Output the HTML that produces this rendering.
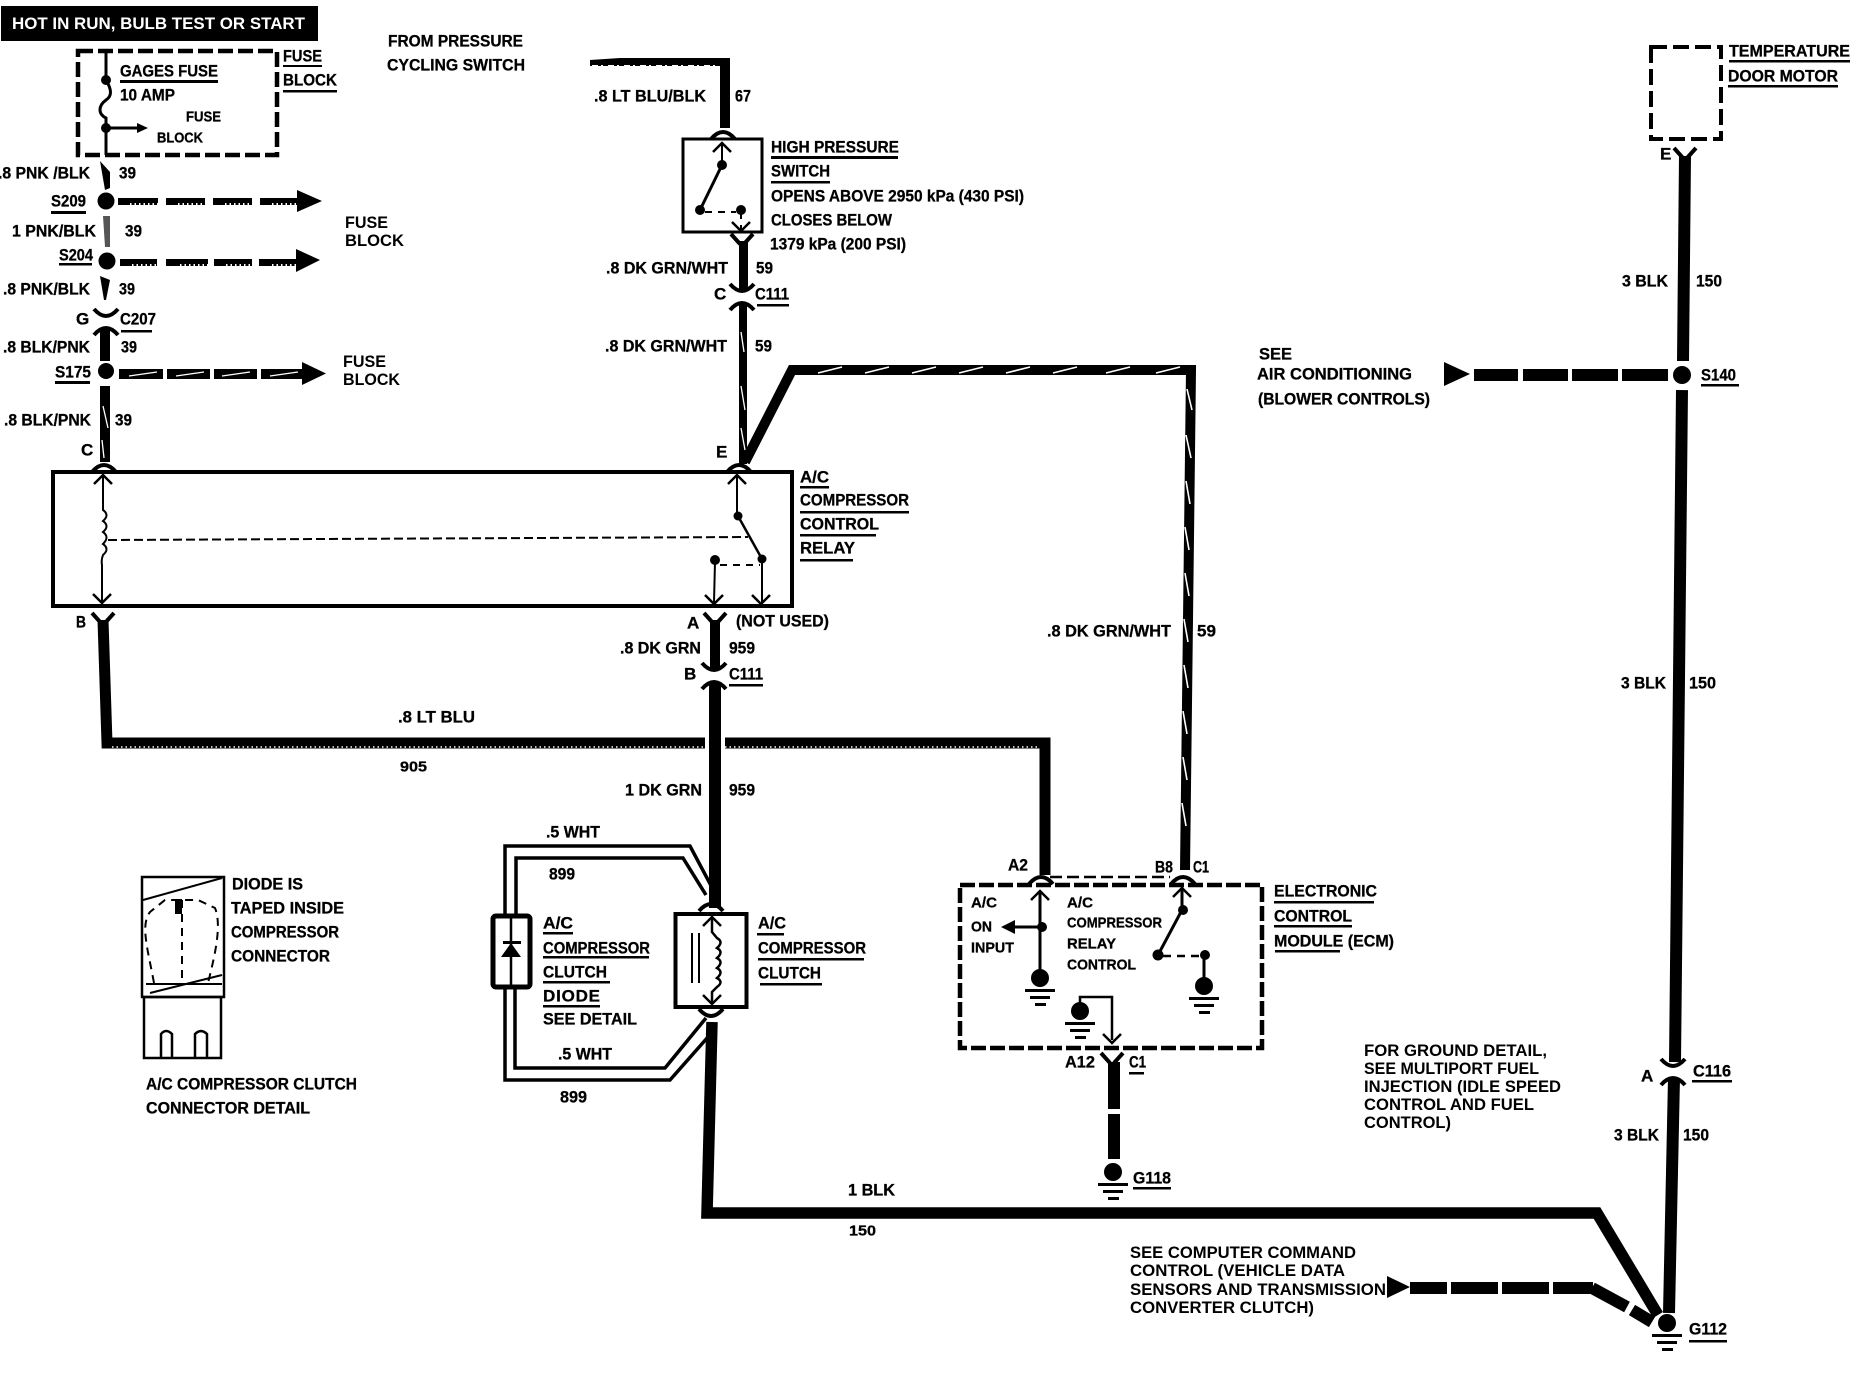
<!DOCTYPE html>
<html><head><meta charset="utf-8"><title>A/C compressor wiring</title>
<style>
html,body{margin:0;padding:0;background:#fff}
svg{display:block}
text{font-family:"Liberation Sans",sans-serif;font-weight:bold;fill:#000}
.c{font-size:17px;stroke:#000;stroke-width:.3px;transform:translateY(-.7px)}.s{font-size:15px;stroke:#000;stroke-width:.3px;transform:translateY(-.7px)}.a{font-size:17px}.h{font-size:17px;fill:#fff}
.l{fill:none;stroke:#000;stroke-linejoin:miter}
.w{fill:none;stroke:#fff}
</style></head><body>
<svg xmlns="http://www.w3.org/2000/svg" width="1858" height="1376" viewBox="0 0 1858 1376">
<defs>
<path id="cap" class="l" stroke-width="4" d="M-12,7 Q0,-7 12,7"/>
<path id="cup" class="l" stroke-width="4" d="M-12,-7 Q0,7 12,-7"/>
<path id="yc" class="l" stroke-width="4" d="M-11,-7 L-2,3 M11,-7 L2,3"/>
<path id="au" class="l" stroke-width="2.5" d="M-9,9 L0,0 L9,9"/>
<path id="ad" class="l" stroke-width="2.5" d="M-9,-9 L0,0 L9,-9"/>
<g id="gnd"><circle r="9"/><rect x="-15" y="11" width="30" height="3"/><rect x="-10" y="18" width="20" height="3"/><rect x="-5" y="25" width="11" height="3"/></g>
</defs>
<rect width="1858" height="1376" fill="#fff"/>

<!-- header -->
<rect x="1" y="6" width="317" height="35"/>
<text class="h" x="12" y="29" textLength="293" lengthAdjust="spacingAndGlyphs">HOT IN RUN,  BULB TEST OR START</text>

<!-- fuse box -->
<rect class="l" x="78" y="51" width="199" height="104" stroke-width="4.5" stroke-dasharray="15 5"/>
<path class="l" stroke-width="3" d="M106,50 V80 C112,90 112,96 106,100 C98,106 98,114 106,118 V155 M106,128 H140"/>
<circle cx="106" cy="80" r="5"/><circle cx="106" cy="128" r="5"/>
<path d="M137,123 L148,128 L137,133Z"/>
<text class="c" x="120" y="77" textLength="98" lengthAdjust="spacingAndGlyphs">GAGES FUSE</text>
<rect x="120" y="80" width="98" height="3"/>
<text class="c" x="120" y="101" textLength="55" lengthAdjust="spacingAndGlyphs">10 AMP</text>
<text class="s" x="186" y="122" textLength="35" lengthAdjust="spacingAndGlyphs">FUSE</text>
<text class="s" x="157" y="143" textLength="46" lengthAdjust="spacingAndGlyphs">BLOCK</text>
<text class="c" x="283" y="62" textLength="39" lengthAdjust="spacingAndGlyphs">FUSE</text><rect x="283" y="65" width="39" height="2"/>
<text class="c" x="283" y="86" textLength="54" lengthAdjust="spacingAndGlyphs">BLOCK</text><rect x="283" y="90" width="54" height="2.5"/>

<text class="c" x="388" y="47" textLength="135" lengthAdjust="spacingAndGlyphs">FROM PRESSURE</text>
<text class="c" x="387" y="71" textLength="138" lengthAdjust="spacingAndGlyphs">CYCLING SWITCH</text>

<!-- left vertical chain -->
<text class="c" x="-2" y="179" textLength="92" lengthAdjust="spacingAndGlyphs">.8 PNK /BLK</text>
<text class="c" x="119" y="179" textLength="17" lengthAdjust="spacingAndGlyphs">39</text>
<path d="M100,161 L110,172 L110,188 L105,190Z"/>
<circle cx="106" cy="201" r="8.5"/>
<text class="c" x="51" y="207" textLength="35" lengthAdjust="spacingAndGlyphs">S209</text><rect x="51" y="211" width="35" height="3"/>
<g><rect x="118" y="198" width="40" height="7"/><rect x="166" y="198" width="39" height="7"/><rect x="213" y="198" width="39" height="7"/><rect x="260" y="198" width="40" height="7"/><path d="M297,190 L322,201 L297,212Z"/></g>
<path class="w" stroke-width="2" stroke-dasharray="1.500 3" d="M130,204 H158 M178,204 H205 M225,204 H252 M272,204 H298"/>
<text class="c" x="12" y="237" textLength="84" lengthAdjust="spacingAndGlyphs">1 PNK/BLK</text>
<text class="c" x="125" y="237" textLength="17" lengthAdjust="spacingAndGlyphs">39</text>
<path d="M103,216 H110 V247 H105Z" fill="#555"/>
<text class="c" x="59" y="261" textLength="34" lengthAdjust="spacingAndGlyphs">S204</text><rect x="59" y="263" width="33" height="2.5"/>
<circle cx="107" cy="261" r="8.5"/>
<g><rect x="120" y="259" width="37" height="7"/><rect x="166" y="259" width="42" height="7"/><rect x="214" y="259" width="38" height="7"/><rect x="259" y="259" width="38" height="7"/><path d="M296,249 L320,260 L296,272Z"/></g>
<path class="w" stroke-width="2" stroke-dasharray="1.500 3" d="M132,265 H157 M180,265 H208 M226,265 H252 M272,265 H297"/>
<text class="c" x="3" y="295" textLength="87" lengthAdjust="spacingAndGlyphs">.8 PNK/BLK</text>
<text class="c" x="119" y="295" textLength="16" lengthAdjust="spacingAndGlyphs">39</text>
<path d="M100,276 L110,280 L106,300 L104,300Z"/>
<text class="c" x="76" y="325">G</text>
<use href="#cup" x="106" y="316"/><use href="#cap" x="106" y="328"/>
<text class="c" x="120" y="325" textLength="36" lengthAdjust="spacingAndGlyphs">C207</text><rect x="121" y="330" width="31" height="2.5"/>
<rect x="100" y="328" width="10" height="33"/>
<text class="c" x="3" y="353" textLength="87" lengthAdjust="spacingAndGlyphs">.8 BLK/PNK</text>
<text class="c" x="121" y="353" textLength="16" lengthAdjust="spacingAndGlyphs">39</text>
<circle cx="106" cy="371" r="8"/>
<text class="c" x="55" y="378" textLength="36" lengthAdjust="spacingAndGlyphs">S175</text><rect x="55" y="381" width="35" height="3"/>
<g><rect x="119" y="369" width="44" height="10"/><rect x="167" y="369" width="43" height="10"/><rect x="214" y="369" width="43" height="10"/><rect x="261" y="369" width="43" height="10"/><path d="M302,362 L326,373.500 L302,385Z"/></g>
<path class="w" stroke-width="1.300" d="M129,376 L157,372 M176,376 L204,372 M222,376 L250,372 M270,376 L298,372"/>
<text class="a" x="345" y="228" textLength="43" lengthAdjust="spacingAndGlyphs">FUSE</text>
<text class="a" x="345" y="246" textLength="59" lengthAdjust="spacingAndGlyphs">BLOCK</text>
<text class="a" x="343" y="367" textLength="43" lengthAdjust="spacingAndGlyphs">FUSE</text>
<text class="a" x="343" y="385" textLength="57" lengthAdjust="spacingAndGlyphs">BLOCK</text>
<rect x="100" y="386" width="10" height="76"/>
<path class="w" stroke-width="1.300" d="M103,406 L108,428 M102,440 L104,458"/>
<text class="c" x="4" y="426" textLength="87" lengthAdjust="spacingAndGlyphs">.8 BLK/PNK</text>
<text class="c" x="115" y="426" textLength="17" lengthAdjust="spacingAndGlyphs">39</text>
<text class="c" x="81" y="456">C</text>
<use href="#cap" x="104" y="465"/>

<!-- relay -->
<rect class="l" x="53" y="472" width="739" height="134" stroke-width="4"/>
<use href="#au" x="103" y="475"/>
<path class="l" stroke-width="2" d="M103,476 V510 q7,5 0,11 q7,5 0,11 q7,5 0,12 q7,5 0,11 q-2,5 -1,10 V602"/>
<use href="#ad" x="102" y="603"/>
<path class="l" stroke-width="2" stroke-dasharray="9 4" d="M108,540 L748,537"/>
<use href="#au" x="737" y="475"/>
<path class="l" stroke-width="2" d="M737,476 V516"/>
<circle cx="738" cy="516" r="4.500"/>
<path class="l" stroke-width="2.500" d="M738,516 L762,559"/>
<circle cx="762" cy="559" r="4.500"/><circle cx="715" cy="560" r="5"/>
<path class="l" stroke-width="2" stroke-dasharray="7 6" d="M720,565 H760"/>
<path class="l" stroke-width="2" d="M715,562 L714,602 M762,560 V602"/>
<use href="#ad" x="714" y="604"/><use href="#ad" x="761" y="604"/>
<text class="c" x="800" y="483" textLength="29" lengthAdjust="spacingAndGlyphs">A/C</text><rect x="800" y="486" width="29" height="2.5"/>
<text class="c" x="800" y="506" textLength="109" lengthAdjust="spacingAndGlyphs">COMPRESSOR</text><rect x="800" y="511" width="109" height="2.5"/>
<text class="c" x="800" y="530" textLength="79" lengthAdjust="spacingAndGlyphs">CONTROL</text><rect x="800" y="534" width="76" height="2.5"/>
<text class="c" x="800" y="554" textLength="55" lengthAdjust="spacingAndGlyphs">RELAY</text><rect x="800" y="559" width="53" height="2.5"/>

<text class="c" x="76" y="628" textLength="10" lengthAdjust="spacingAndGlyphs">B</text>
<use href="#yc" x="103" y="620"/>
<path class="l" stroke-width="11" d="M103,620 L107,743 H705 M725,743 H1045 V875"/>
<path class="w" stroke-width="1.500" stroke-dasharray="1.500 3" d="M112,747 H705 M725,747 H1040"/>
<use href="#yc" x="715" y="620"/>
<text class="c" x="687" y="629">A</text>
<text class="c" x="736" y="627" textLength="93" lengthAdjust="spacingAndGlyphs">(NOT USED)</text>
<rect x="710" y="620" width="10" height="48"/>
<text class="c" x="620" y="654" textLength="81" lengthAdjust="spacingAndGlyphs">.8 DK GRN</text>
<text class="c" x="729" y="654" textLength="26" lengthAdjust="spacingAndGlyphs">959</text>
<use href="#cup" x="714" y="670"/><use href="#cap" x="714" y="682"/>
<text class="c" x="684" y="680">B</text>
<text class="c" x="729" y="680" textLength="34" lengthAdjust="spacingAndGlyphs">C111</text><rect x="729" y="684" width="34" height="2.5"/>
<rect x="709" y="683" width="12" height="225"/>
<text class="c" x="398" y="723" textLength="77" lengthAdjust="spacingAndGlyphs">.8 LT BLU</text>
<text class="s" x="400" y="772" textLength="27" lengthAdjust="spacingAndGlyphs">905</text>
<text class="c" x="625" y="796" textLength="77" lengthAdjust="spacingAndGlyphs">1 DK GRN</text>
<text class="c" x="729" y="796" textLength="26" lengthAdjust="spacingAndGlyphs">959</text>

<!-- high pressure switch -->
<path d="M590,60 L620,58 H728 V66 H590Z"/>
<path class="w" stroke-width="2" stroke-dasharray="6 3 2 5" d="M592,66 H716"/>
<path class="l" stroke-width="10" d="M725,58 V128"/>
<use href="#cap" x="723" y="132"/>
<text class="c" x="594" y="102" textLength="112" lengthAdjust="spacingAndGlyphs">.8 LT BLU/BLK</text>
<text class="c" x="735" y="102" textLength="16" lengthAdjust="spacingAndGlyphs">67</text>
<rect class="l" x="683" y="139" width="79" height="93" stroke-width="3"/>
<use href="#au" x="722" y="143"/>
<path class="l" stroke-width="2" d="M722,144 V165"/>
<circle cx="722" cy="165" r="5"/>
<path class="l" stroke-width="3" d="M722,165 L700,210"/>
<circle cx="700" cy="210" r="5"/><circle cx="741" cy="210" r="5"/>
<path class="l" stroke-width="2" stroke-dasharray="7 6" d="M705,212 H736 M741,212 V230"/>
<use href="#ad" x="741" y="231"/>
<use href="#yc" x="742" y="241"/>
<text class="c" x="771" y="153" textLength="128" lengthAdjust="spacingAndGlyphs">HIGH PRESSURE</text><rect x="771" y="156" width="127" height="3"/>
<text class="c" x="771" y="177" textLength="59" lengthAdjust="spacingAndGlyphs">SWITCH</text><rect x="771" y="181" width="59" height="2.5"/>
<text class="c" x="771" y="202" textLength="253" lengthAdjust="spacingAndGlyphs">OPENS ABOVE 2950 kPa (430 PSI)</text>
<text class="c" x="771" y="226" textLength="121" lengthAdjust="spacingAndGlyphs">CLOSES BELOW</text>
<text class="c" x="770" y="250" textLength="136" lengthAdjust="spacingAndGlyphs">1379 kPa (200 PSI)</text>
<rect x="739" y="241" width="9" height="48"/>
<text class="c" x="606" y="274" textLength="122" lengthAdjust="spacingAndGlyphs">.8 DK GRN/WHT</text>
<text class="c" x="756" y="274" textLength="17" lengthAdjust="spacingAndGlyphs">59</text>
<use href="#cup" x="742" y="291"/><use href="#cap" x="742" y="303"/>
<text class="c" x="714" y="300">C</text>
<text class="c" x="755" y="300" textLength="34" lengthAdjust="spacingAndGlyphs">C111</text><rect x="757" y="304" width="32" height="2.500"/>
<rect x="739" y="304" width="8" height="160"/>
<path class="w" stroke-width="1.300" d="M741,332 L744,352 M741,386 L745,410 M741,428 L745,450"/>
<text class="c" x="605" y="352" textLength="122" lengthAdjust="spacingAndGlyphs">.8 DK GRN/WHT</text>
<text class="c" x="755" y="352" textLength="17" lengthAdjust="spacingAndGlyphs">59</text>
<path class="l" stroke-width="10" d="M745,462 L792,370 H1191 L1185,870"/>
<path class="w" stroke-width="1.600" d="M818,373 l24,-6 M865,373 l24,-6 M912,373 l24,-6 M959,373 l24,-6 M1006,373 l24,-6 M1053,373 l24,-6 M1106,373 l24,-6 M1156,373 l24,-6"/>
<path class="w" stroke-width="1.600" d="M1187,389 l5,21 M1186,435 l5,23 M1186,481 l4,23 M1185,527 l4,23 M1185,573 l4,23 M1184,619 l4,23 M1184,665 l4,23 M1183,711 l4,23 M1183,757 l4,23 M1182,803 l4,23"/>
<text class="c" x="716" y="458">E</text>
<use href="#cap" x="739" y="465"/>
<text class="c" x="1047" y="637" textLength="124" lengthAdjust="spacingAndGlyphs">.8 DK GRN/WHT</text>
<text class="c" x="1197" y="637" textLength="19" lengthAdjust="spacingAndGlyphs">59</text>

<!-- clutch -->
<text class="c" x="546" y="838" textLength="54" lengthAdjust="spacingAndGlyphs">.5 WHT</text>
<text class="c" x="549" y="880" textLength="26" lengthAdjust="spacingAndGlyphs">899</text>
<path class="l" stroke-width="3.500" d="M505,915 V846 H690 L716,895 M516,915 V858 H683 L706,895"/>
<rect class="l" x="493" y="916" width="37" height="71" rx="3" stroke-width="5"/>
<path class="l" stroke-width="2.500" d="M511,916 V987"/>
<rect x="503" y="941" width="18" height="3"/><path d="M511,943 L521,957 H501Z"/>
<text class="c" x="543" y="929" textLength="30" lengthAdjust="spacingAndGlyphs">A/C</text><rect x="543" y="932" width="30" height="2.500"/>
<text class="c" x="543" y="954" textLength="107" lengthAdjust="spacingAndGlyphs">COMPRESSOR</text><rect x="543" y="956" width="106" height="2.500"/>
<text class="c" x="543" y="978" textLength="64" lengthAdjust="spacingAndGlyphs">CLUTCH</text><rect x="543" y="981" width="67" height="2.500"/>
<text class="c" x="543" y="1002" textLength="57" lengthAdjust="spacing">DIODE</text><rect x="543" y="1005" width="57" height="2.500"/>
<text class="c" x="543" y="1025" textLength="94" lengthAdjust="spacingAndGlyphs">SEE DETAIL</text>
<text class="c" x="558" y="1060" textLength="54" lengthAdjust="spacingAndGlyphs">.5 WHT</text>
<path class="l" stroke-width="3.500" d="M505,987 V1080 H670 L708,1037 M515,987 V1068 H665 L706,1018"/>
<text class="c" x="560" y="1103" textLength="27" lengthAdjust="spacingAndGlyphs">899</text>
<use href="#cap" x="711" y="904"/>
<rect class="l" x="675.500" y="914" width="71" height="93" stroke-width="4"/>
<use href="#au" x="712" y="917"/>
<path class="l" stroke-width="2.500" d="M712,918 V932 L717,938 q7,4 0,10 q7,4 0,10 q7,4 0,10 q7,4 0,10 q7,4 0,9 L712,992 V1002"/>
<use href="#ad" x="712" y="1004"/>
<path class="l" stroke-width="2" d="M692,933 V983 M699,933 V983"/>
<use href="#cup" x="711" y="1016"/>
<text class="c" x="758" y="929" textLength="28" lengthAdjust="spacingAndGlyphs">A/C</text><rect x="757" y="933" width="27" height="2.500"/>
<text class="c" x="758" y="954" textLength="108" lengthAdjust="spacingAndGlyphs">COMPRESSOR</text><rect x="758" y="958" width="106" height="2.500"/>
<text class="c" x="758" y="979" textLength="63" lengthAdjust="spacingAndGlyphs">CLUTCH</text><rect x="760" y="983" width="62" height="2.500"/>
<path class="l" stroke-width="11.500" d="M712,1022 L707,1213 H1597 L1658,1315"/>
<text class="c" x="848" y="1196" textLength="47" lengthAdjust="spacingAndGlyphs">1 BLK</text>
<text class="s" x="849" y="1236" textLength="27" lengthAdjust="spacingAndGlyphs">150</text>

<!-- ECM -->
<rect class="l" x="960" y="885" width="302" height="163" stroke-width="4.500" stroke-dasharray="15 4"/>
<path class="l" stroke-width="2.500" stroke-dasharray="12 5" d="M1050,877 H1170"/>
<text class="c" x="1008" y="871" textLength="20" lengthAdjust="spacingAndGlyphs">A2</text>
<use href="#cap" x="1041" y="877"/>
<text class="c" x="1155" y="873" textLength="18" lengthAdjust="spacingAndGlyphs">B8</text>
<text class="c" x="1193" y="873" textLength="16" lengthAdjust="spacingAndGlyphs">C1</text>
<use href="#cap" x="1183" y="877"/>
<use href="#au" x="1040" y="891"/>
<path class="l" stroke-width="3" d="M1040,892 V975 M1040,927 H1010"/>
<circle cx="1042" cy="927" r="5"/>
<path d="M1001,927 L1015,920 V934Z"/>
<use href="#gnd" x="1040" y="978"/>
<text class="s" x="971" y="908" textLength="26" lengthAdjust="spacingAndGlyphs">A/C</text>
<text class="s" x="971" y="932" textLength="21" lengthAdjust="spacingAndGlyphs">ON</text>
<text class="s" x="971" y="953" textLength="43" lengthAdjust="spacingAndGlyphs">INPUT</text>
<text class="s" x="1067" y="908" textLength="26" lengthAdjust="spacingAndGlyphs">A/C</text>
<text class="s" x="1067" y="928" textLength="95" lengthAdjust="spacingAndGlyphs">COMPRESSOR</text>
<text class="s" x="1067" y="949" textLength="49" lengthAdjust="spacingAndGlyphs">RELAY</text>
<text class="s" x="1067" y="970" textLength="69" lengthAdjust="spacingAndGlyphs">CONTROL</text>
<use href="#au" x="1182" y="888"/>
<path class="l" stroke-width="3" d="M1182,889 V910 L1158,955"/>
<circle cx="1183" cy="910" r="5"/><circle cx="1158" cy="955" r="5.500"/><circle cx="1205" cy="955" r="5"/>
<path class="l" stroke-width="2.500" stroke-dasharray="8 6" d="M1163,956 H1200"/>
<path class="l" stroke-width="3" d="M1204,956 V980"/>
<use href="#gnd" x="1204" y="986"/>
<use href="#gnd" x="1080" y="1011"/>
<path class="l" stroke-width="2.500" d="M1080,1003 V997 H1112 V1040"/>
<use href="#ad" x="1112" y="1043"/>
<text class="c" x="1065" y="1068" textLength="30" lengthAdjust="spacingAndGlyphs">A12</text>
<use href="#yc" x="1112" y="1060"/>
<text class="c" x="1129" y="1068" textLength="17" lengthAdjust="spacingAndGlyphs">C1</text><rect x="1129" y="1072" width="15" height="2.500"/>
<rect x="1108" y="1062" width="12" height="47"/><rect x="1108" y="1114" width="12" height="45"/>
<use href="#gnd" x="1113" y="1172"/>
<text class="c" x="1133" y="1184" textLength="38" lengthAdjust="spacingAndGlyphs">G118</text><rect x="1133" y="1187" width="38" height="2.500"/>
<text class="c" x="1274" y="897" textLength="103" lengthAdjust="spacingAndGlyphs">ELECTRONIC</text><rect x="1274" y="901" width="100" height="2.500"/>
<text class="c" x="1274" y="922" textLength="78" lengthAdjust="spacingAndGlyphs">CONTROL</text><rect x="1274" y="925" width="78" height="2.500"/>
<text class="c" x="1274" y="947" textLength="120" lengthAdjust="spacingAndGlyphs">MODULE (ECM)</text><rect x="1275" y="950" width="65" height="2.500"/>

<!-- detail -->
<rect class="l" x="142" y="877" width="82" height="120" stroke-width="2.500"/>
<path class="l" stroke-width="2" d="M143,900 L222,878 M150,993 L222,975 M146,984 H222"/>
<rect class="l" x="144" y="997" width="77" height="61" stroke-width="2.500"/>
<path class="l" stroke-width="2.500" d="M161,1058 V1034 Q166,1028 172,1034 V1058 M195,1058 V1034 Q201,1028 207,1034 V1058"/>
<path class="l" stroke-width="2" stroke-dasharray="8 6" d="M154,983 C148,950 140,925 150,912 L165,900 H198 L215,908 C222,925 215,955 208,983 M182,900 V985"/>
<rect x="175" y="899" width="7" height="15"/>
<text class="c" x="232" y="890" textLength="71" lengthAdjust="spacingAndGlyphs">DIODE IS</text>
<text class="c" x="231" y="914" textLength="113" lengthAdjust="spacingAndGlyphs">TAPED INSIDE</text>
<text class="c" x="231" y="938" textLength="108" lengthAdjust="spacingAndGlyphs">COMPRESSOR</text>
<text class="c" x="231" y="962" textLength="99" lengthAdjust="spacingAndGlyphs">CONNECTOR</text>
<text class="c" x="146" y="1090" textLength="211" lengthAdjust="spacingAndGlyphs">A/C COMPRESSOR CLUTCH</text>
<text class="c" x="146" y="1114" textLength="164" lengthAdjust="spacingAndGlyphs">CONNECTOR DETAIL</text>

<!-- right side -->
<rect class="l" x="1651" y="47" width="70" height="92" stroke-width="4" stroke-dasharray="16 6"/>
<text class="c" x="1729" y="57" textLength="121" lengthAdjust="spacingAndGlyphs">TEMPERATURE</text><rect x="1729" y="60" width="121" height="2.500"/>
<text class="c" x="1728" y="82" textLength="110" lengthAdjust="spacingAndGlyphs">DOOR MOTOR</text><rect x="1728" y="85" width="110" height="2.500"/>
<text class="c" x="1660" y="160">E</text>
<use href="#yc" x="1685" y="155"/>
<path class="l" stroke-width="12" d="M1685,156 L1683,361"/>
<text class="c" x="1622" y="287" textLength="46" lengthAdjust="spacingAndGlyphs">3 BLK</text>
<text class="c" x="1696" y="287" textLength="26" lengthAdjust="spacingAndGlyphs">150</text>
<circle cx="1682" cy="375" r="9"/>
<text class="c" x="1701" y="381" textLength="35" lengthAdjust="spacingAndGlyphs">S140</text><rect x="1701" y="384" width="38" height="2.500"/>
<g><rect x="1474" y="369" width="44" height="12"/><rect x="1523" y="369" width="45" height="12"/><rect x="1572" y="369" width="46" height="12"/><rect x="1622" y="369" width="46" height="12"/><path d="M1444,362 L1470,374 L1444,386Z"/></g>
<text class="c" x="1259" y="360" textLength="33" lengthAdjust="spacingAndGlyphs">SEE</text>
<text class="c" x="1257" y="380" textLength="155" lengthAdjust="spacingAndGlyphs">AIR CONDITIONING</text>
<text class="c" x="1258" y="405" textLength="172" lengthAdjust="spacingAndGlyphs">(BLOWER CONTROLS)</text>
<path class="l" stroke-width="12" d="M1682,390 L1675,1062"/>
<text class="c" x="1621" y="689" textLength="45" lengthAdjust="spacingAndGlyphs">3 BLK</text>
<text class="c" x="1689" y="689" textLength="27" lengthAdjust="spacingAndGlyphs">150</text>
<use href="#cup" x="1673" y="1066"/><use href="#cap" x="1673" y="1078"/>
<text class="c" x="1641" y="1082">A</text>
<text class="c" x="1693" y="1077" textLength="38" lengthAdjust="spacingAndGlyphs">C116</text><rect x="1692" y="1080" width="40" height="2.500"/>
<path class="l" stroke-width="12" d="M1674,1078 L1669,1313"/>
<text class="c" x="1614" y="1141" textLength="45" lengthAdjust="spacingAndGlyphs">3 BLK</text>
<text class="c" x="1683" y="1141" textLength="26" lengthAdjust="spacingAndGlyphs">150</text>
<use href="#gnd" x="1667" y="1323"/>
<text class="c" x="1689" y="1335" textLength="38" lengthAdjust="spacingAndGlyphs">G112</text><rect x="1689" y="1340" width="38" height="2.500"/>
<text class="a" x="1364" y="1056" textLength="183" lengthAdjust="spacingAndGlyphs">FOR GROUND DETAIL,</text>
<text class="a" x="1364" y="1074" textLength="175" lengthAdjust="spacingAndGlyphs">SEE MULTIPORT FUEL</text>
<text class="a" x="1364" y="1092" textLength="197" lengthAdjust="spacingAndGlyphs">INJECTION (IDLE SPEED</text>
<text class="a" x="1364" y="1110" textLength="170" lengthAdjust="spacingAndGlyphs">CONTROL AND FUEL</text>
<text class="a" x="1364" y="1128" textLength="87" lengthAdjust="spacingAndGlyphs">CONTROL)</text>
<text class="a" x="1130" y="1258" textLength="226" lengthAdjust="spacingAndGlyphs">SEE COMPUTER COMMAND</text>
<text class="a" x="1130" y="1276" textLength="215" lengthAdjust="spacingAndGlyphs">CONTROL (VEHICLE DATA</text>
<text class="a" x="1130" y="1295" textLength="256" lengthAdjust="spacingAndGlyphs">SENSORS AND TRANSMISSION</text>
<text class="a" x="1130" y="1313" textLength="184" lengthAdjust="spacingAndGlyphs">CONVERTER CLUTCH)</text>
<g><path d="M1387,1276 L1410,1287 L1387,1298Z"/><rect x="1410" y="1282" width="37" height="12"/><rect x="1451" y="1282" width="47" height="12"/><rect x="1502" y="1282" width="47" height="12"/><rect x="1553" y="1282" width="40" height="12"/></g>
<path class="l" stroke-width="12" d="M1592,1288 L1627,1307 M1632,1310 L1652,1322"/>
</svg>
</body></html>
